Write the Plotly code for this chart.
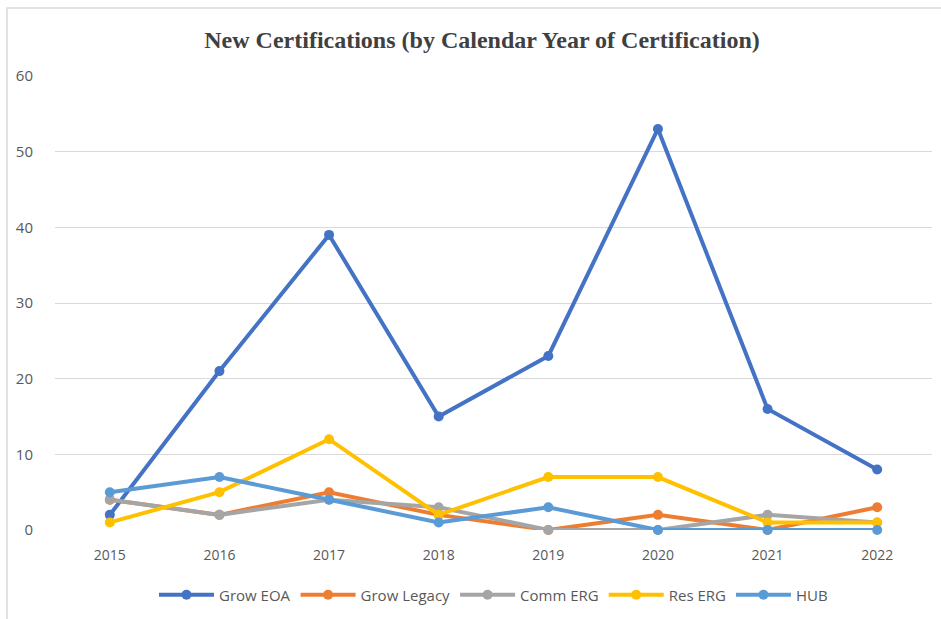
import plotly.graph_objects as go

years = ["2015", "2016", "2017", "2018", "2019", "2020", "2021", "2022"]
grow_eoa = [2, 21, 39, 15, 23, 53, 16, 8]
grow_legacy = [4, 2, 5, 2, 0, 2, 0, 3]
comm_erg = [4, 2, 4, 3, 0, 0, 2, 1]
res_erg = [1, 5, 12, 2, 7, 7, 1, 1]
hub = [5, 7, 4, 1, 3, 0, 0, 0]

series = [
    ("Grow EOA", grow_eoa, "#4472C4"),
    ("Grow Legacy", grow_legacy, "#ED7D31"),
    ("Comm ERG", comm_erg, "#A5A5A5"),
    ("Res ERG", res_erg, "#FFC000"),
    ("HUB", hub, "#5B9BD5"),
]

fig = go.Figure()
for name, vals, color in series:
    fig.add_trace(go.Scatter(
        x=years, y=vals, name=name, mode="lines+markers",
        line=dict(color=color, width=4),
        marker=dict(color=color, size=10),
        cliponaxis=False,
    ))

L, R, T, B = 55, 9, 76, 89
PW = 941 - L - R
PH = 619 - T - B

fig.update_layout(
    width=941, height=619,
    paper_bgcolor="white", plot_bgcolor="white",
    margin=dict(l=L, r=R, t=T, b=B, autoexpand=False),
    title=dict(
        text="<b>New Certifications (by Calendar Year of Certification)</b>",
        x=482 / 941, xanchor="center", y=1 - 40 / 619, yanchor="middle",
        xref="container",
        font=dict(family="Liberation Serif", size=24, color="#404040"),
    ),
    font=dict(family="Open Sans", size=14, color="#595959"),
    showlegend=True,
    legend=dict(
        orientation="h", x=0.5, xanchor="center", y=(530 - 595) / PH, yanchor="middle",
        font=dict(family="Open Sans", size=15, color="#595959"),
        itemwidth=55, traceorder="normal",
    ),
    xaxis=dict(
        type="category", showgrid=False, showline=False, zeroline=False,
        ticks="outside", ticklen=12, tickcolor="rgba(0,0,0,0)",
        tickfont=dict(size=14, color="#595959"),
        range=[-0.5, 7.5],
    ),
    yaxis=dict(
        range=[0, 60], dtick=10, showgrid=True, gridcolor="#D9D9D9",
        gridwidth=1, zeroline=False, showline=False,
        ticks="outside", ticklen=18, tickcolor="rgba(0,0,0,0)",
        tickfont=dict(size=15, color="#595959"),
    ),
    shapes=[dict(
        type="rect", xref="paper", yref="paper",
        x0=(7 - L) / PW, x1=(960 - L) / PW,
        y0=(530 - 640) / PH, y1=(530 - 8) / PH,
        line=dict(color="#D9D9D9", width=1.5), fillcolor="rgba(0,0,0,0)",
        layer="below",
    )],
)

fig.write_html("out.html", config={"displayModeBar": False},
               post_script="document.body.style.margin='0';")
